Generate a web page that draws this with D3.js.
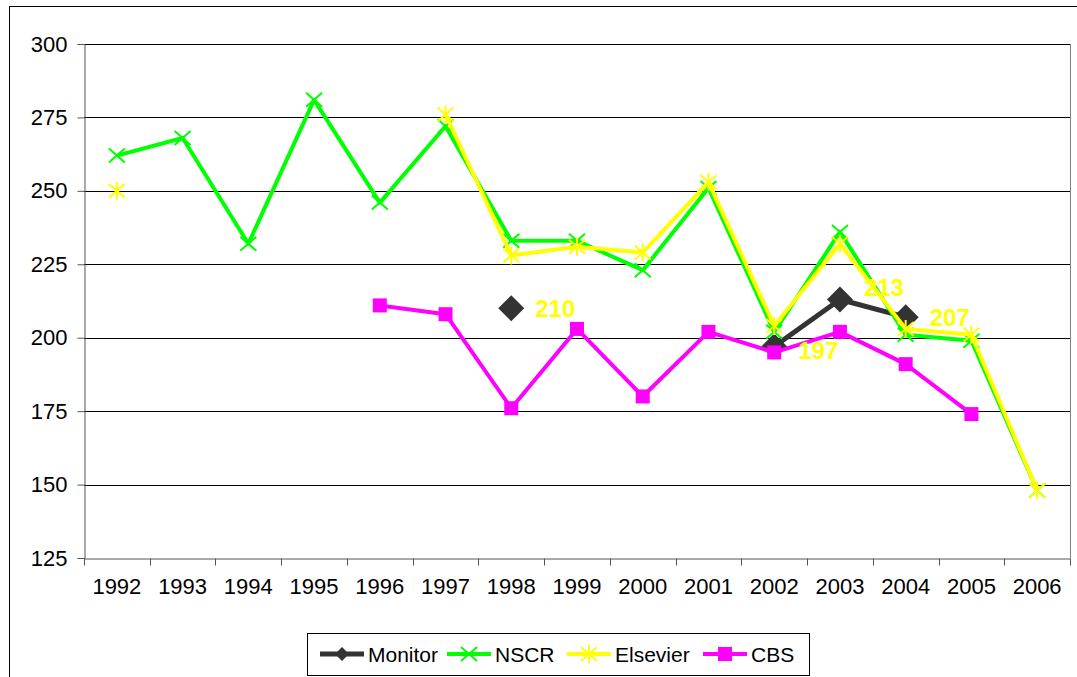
<!DOCTYPE html>
<html>
<head>
<meta charset="utf-8">
<script src="https://cdn.jsdelivr.net/npm/d3@7"></script>
<style>
  body { margin: 0; background: #fff; }
  text { font-family: "Liberation Sans", Arial, sans-serif; }
</style>
</head>
<body>
<div id="chart"></div>
<script>

var years = ["1992","1993","1994","1995","1996","1997","1998","1999","2000","2001","2002","2003","2004","2005","2006"];

var monitor  = [null,null,null,null,null,null,210,null,null,null,197,213,207,null,null];
var nscr     = [262,268,232,281,246,272,233,233,223,251,202,236,201,199,148];
var elsevier = [250,null,null,null,null,276,228,231,229,253,204,232,203,201,148];
var cbs      = [null,null,null,null,211,208,176,203,180,202,195,202,191,174,null];

var yTicks = [125,150,175,200,225,250,275,300];

var series = [
  {name:"Monitor",  values:monitor,  color:"#333333", marker:"diamond", width:5},
  {name:"NSCR",     values:nscr,     color:"#00ff00", marker:"cross",   width:4},
  {name:"Elsevier", values:elsevier, color:"#ffff00", marker:"star",    width:4},
  {name:"CBS",      values:cbs,      color:"#ff00ff", marker:"square",  width:4}
];

var W = 1077, H = 677;
var margin = {left:84, top:44, right:7, bottom:119};

var svg = d3.select("#chart").append("svg")
  .attr("width", W).attr("height", H);

// chart border
svg.append("rect")
  .attr("x", 9.5).attr("y", 6.5)
  .attr("width", W).attr("height", H)
  .attr("fill", "none").attr("stroke", "#000").attr("stroke-width", 1);

var x = d3.scaleBand().domain(years).range([margin.left, W - margin.right]);
var y = d3.scaleLinear().domain([125,300]).range([H - margin.bottom, margin.top]);

// gridlines
svg.append("g").selectAll("line")
  .data(yTicks.filter(function(d){ return d > 125; }))
  .enter().append("line")
  .attr("x1", margin.left).attr("x2", W - margin.right)
  .attr("y1", function(d){ return Math.round(y(d)) + 0.5; })
  .attr("y2", function(d){ return Math.round(y(d)) + 0.5; })
  .attr("stroke", "#000").attr("stroke-width", 1);

// right edge of plot
svg.append("line")
  .attr("x1", W - margin.right + 0.5).attr("x2", W - margin.right + 0.5)
  .attr("y1", margin.top).attr("y2", H - margin.bottom)
  .attr("stroke", "#808080");

// y axis
var yAxis = d3.axisLeft(y).tickValues(yTicks).tickSize(7).tickPadding(10);
var yg = svg.append("g")
  .attr("transform", "translate(" + (margin.left + 0.5) + ",0)")
  .call(yAxis);
yg.select(".domain").attr("stroke", "#555");
yg.selectAll(".tick line").attr("stroke", "#555");
yg.selectAll("text").attr("font-size", 22).attr("fill", "#000");

// x axis
var xAxis = d3.axisBottom(x).tickSize(0).tickPadding(20);
var xg = svg.append("g")
  .attr("transform", "translate(0," + (Math.round(y(125)) + 0.5) + ")")
  .call(xAxis);
xg.select(".domain").attr("stroke", "#555");
xg.selectAll("text").attr("font-size", 22).attr("fill", "#000");
xg.selectAll(".sep").data(years.concat(["end"])).enter().append("line")
  .attr("x1", function(d,i){ return Math.round(margin.left + i * x.step()) + 0.5; })
  .attr("x2", function(d,i){ return Math.round(margin.left + i * x.step()) + 0.5; })
  .attr("y1", 0).attr("y2", 7)
  .attr("stroke", "#555");

function drawMarker(g, type, color, cx, cy) {
  if (type === "diamond") {
    g.append("path")
      .attr("d", "M" + cx + "," + (cy-13) + "L" + (cx+13) + "," + cy + "L" + cx + "," + (cy+13) + "L" + (cx-13) + "," + cy + "Z")
      .attr("fill", color);
  } else if (type === "square") {
    g.append("rect").attr("x", cx-7).attr("y", cy-7).attr("width", 14).attr("height", 14).attr("fill", color);
  } else if (type === "cross") {
    g.append("path")
      .attr("d", "M" + (cx-8) + "," + (cy-7) + "L" + (cx+8) + "," + (cy+7) + "M" + (cx-8) + "," + (cy+7) + "L" + (cx+8) + "," + (cy-7))
      .attr("stroke", color).attr("stroke-width", 2).attr("fill", "none");
  } else if (type === "star") {
    g.append("path")
      .attr("d", "M" + (cx-8) + "," + (cy-7) + "L" + (cx+8) + "," + (cy+7) + "M" + (cx-8) + "," + (cy+7) + "L" + (cx+8) + "," + (cy-7) +
                 "M" + cx + "," + (cy-9) + "L" + cx + "," + (cy+9))
      .attr("stroke", color).attr("stroke-width", 2).attr("fill", "none");
  }
}

var line = d3.line()
  .defined(function(d){ return d != null; })
  .x(function(d,i){ return x(years[i]) + x.bandwidth()/2; })
  .y(function(d){ return y(d); });

series.forEach(function(s){
  var g = svg.append("g");
  g.append("path")
    .attr("d", line(s.values))
    .attr("fill", "none")
    .attr("stroke", s.color)
    .attr("stroke-width", s.width)
    .attr("stroke-linejoin", "round");
  s.values.forEach(function(v,i){
    if (v == null) return;
    drawMarker(g, s.marker, s.color, x(years[i]) + x.bandwidth()/2, y(v));
  });
});

// data labels for Monitor
var labelShift = {"2003": -12, "2002": 4};
monitor.forEach(function(v,i){
  if (v == null) return;
  svg.append("text")
    .attr("x", x(years[i]) + x.bandwidth()/2 + 24)
    .attr("y", y(v) + (labelShift[years[i]] || 0))
    .attr("dy", "0.36em")
    .attr("font-size", 24).attr("font-weight", "bold")
    .attr("fill", "#ffff00")
    .text(v);
});

// legend
var lg = svg.append("g");
lg.append("rect")
  .attr("x", 307.5).attr("y", 633.5).attr("width", 502).attr("height", 42)
  .attr("fill", "#fff").attr("stroke", "#000");
var legX = [320, 447, 567, 703];
series.forEach(function(s,i){
  var lx = legX[i], ly = 654;
  lg.append("line").attr("x1", lx).attr("x2", lx + 44).attr("y1", ly).attr("y2", ly)
    .attr("stroke", s.color).attr("stroke-width", s.width);
  var mg = lg.append("g");
  if (s.marker === "diamond") {
    mg.append("path").attr("d", "M" + (lx+22) + "," + (ly-7) + "l7,7l-7,7l-7,-7Z").attr("fill", s.color);
  } else {
    drawMarker(mg, s.marker, s.color, lx + 22, ly);
  }
  lg.append("text").attr("x", lx + 48).attr("y", ly).attr("dy", "0.36em")
    .attr("font-size", 21).text(s.name);
});

</script>
</body>
</html>
